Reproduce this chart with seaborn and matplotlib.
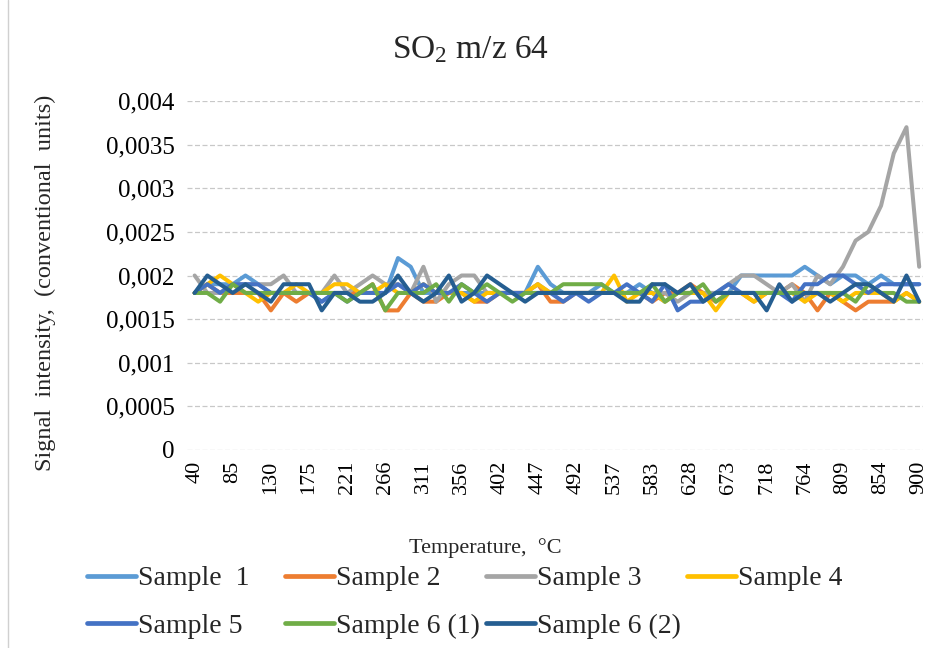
import matplotlib
matplotlib.use("Agg")
import matplotlib.pyplot as plt
from matplotlib.lines import Line2D
from matplotlib.ticker import FuncFormatter, MultipleLocator
import numpy as np
import pandas as pd
import seaborn as sns

# ---------------- data ----------------
temperatures = [40, 55, 70, 85, 100, 115, 130, 145, 160, 175, 190, 206, 221, 236, 251,
                266, 281, 296, 311, 326, 341, 356, 371, 387, 402, 417, 432, 447, 462, 477,
                492, 507, 522, 537, 552, 568, 583, 598, 613, 628, 643, 658, 673, 688, 703,
                718, 733, 749, 764, 779, 794, 809, 824, 839, 854, 869, 884, 900]

sample_1 = [0.0018, 0.0019, 0.0019, 0.0019, 0.0020, 0.0019, 0.0018, 0.0018, 0.0018, 0.0018,
            0.0017, 0.0018, 0.0018, 0.0018, 0.0018, 0.0018, 0.0022, 0.0021, 0.0018, 0.0018,
            0.0018, 0.0018, 0.0018, 0.0018, 0.0018, 0.0018, 0.0018, 0.0021, 0.0019, 0.0018,
            0.0018, 0.0018, 0.0019, 0.0018, 0.0018, 0.0019, 0.0018, 0.0017, 0.0018, 0.0018,
            0.0018, 0.0018, 0.0018, 0.0020, 0.0020, 0.0020, 0.0020, 0.0020, 0.0021, 0.0020,
            0.0019, 0.0020, 0.0020, 0.0019, 0.0020, 0.0019, 0.0019, 0.0019]
sample_2 = [0.0018, 0.0019, 0.0018, 0.0018, 0.0018, 0.0018, 0.0016, 0.0018, 0.0017, 0.0018,
            0.0018, 0.0018, 0.0018, 0.0018, 0.0019, 0.0016, 0.0016, 0.0018, 0.0017, 0.0017,
            0.0018, 0.0018, 0.0017, 0.0017, 0.0018, 0.0018, 0.0018, 0.0019, 0.0017, 0.0017,
            0.0018, 0.0018, 0.0018, 0.0018, 0.0018, 0.0018, 0.0017, 0.0018, 0.0018, 0.0019,
            0.0018, 0.0017, 0.0018, 0.0018, 0.0017, 0.0018, 0.0018, 0.0019, 0.0018, 0.0016,
            0.0018, 0.0017, 0.0016, 0.0017, 0.0017, 0.0017, 0.0018, 0.0017]
sample_3 = [0.0020, 0.0018, 0.0018, 0.0019, 0.0019, 0.0019, 0.0019, 0.0020, 0.0018, 0.0018,
            0.0018, 0.0020, 0.0018, 0.0019, 0.0020, 0.0019, 0.0019, 0.0018, 0.0021, 0.0017,
            0.0019, 0.0020, 0.0020, 0.0018, 0.0018, 0.0018, 0.0018, 0.0019, 0.0018, 0.0018,
            0.0018, 0.0018, 0.0018, 0.0018, 0.0018, 0.0018, 0.0018, 0.0018, 0.0017, 0.0018,
            0.0018, 0.0018, 0.0019, 0.0020, 0.0020, 0.0019, 0.0018, 0.0019, 0.0017, 0.0020,
            0.0019, 0.0021, 0.0024, 0.0025, 0.0028, 0.0034, 0.0037, 0.0021]
sample_4 = [0.0018, 0.0019, 0.0020, 0.0019, 0.0018, 0.0017, 0.0018, 0.0018, 0.0019, 0.0018,
            0.0018, 0.0019, 0.0019, 0.0018, 0.0018, 0.0019, 0.0018, 0.0018, 0.0019, 0.0018,
            0.0018, 0.0018, 0.0017, 0.0018, 0.0018, 0.0018, 0.0018, 0.0019, 0.0018, 0.0018,
            0.0018, 0.0018, 0.0018, 0.0020, 0.0017, 0.0018, 0.0018, 0.0017, 0.0018, 0.0018,
            0.0018, 0.0016, 0.0018, 0.0018, 0.0017, 0.0018, 0.0018, 0.0018, 0.0017, 0.0018,
            0.0018, 0.0017, 0.0018, 0.0018, 0.0018, 0.0017, 0.0018, 0.0017]
sample_5 = [0.0018, 0.0019, 0.0018, 0.0019, 0.0019, 0.0019, 0.0018, 0.0018, 0.0018, 0.0018,
            0.0017, 0.0018, 0.0017, 0.0018, 0.0018, 0.0018, 0.0019, 0.0018, 0.0019, 0.0018,
            0.0018, 0.0019, 0.0018, 0.0017, 0.0018, 0.0018, 0.0018, 0.0018, 0.0018, 0.0017,
            0.0018, 0.0017, 0.0018, 0.0018, 0.0019, 0.0018, 0.0017, 0.0019, 0.0016, 0.0017,
            0.0017, 0.0018, 0.0019, 0.0018, 0.0018, 0.0018, 0.0018, 0.0017, 0.0019, 0.0019,
            0.0020, 0.0020, 0.0019, 0.0018, 0.0019, 0.0019, 0.0019, 0.0019]
sample_6_1 = [0.0018, 0.0018, 0.0017, 0.0019, 0.0018, 0.0018, 0.0018, 0.0018, 0.0018, 0.0018,
              0.0018, 0.0018, 0.0017, 0.0018, 0.0019, 0.0016, 0.0018, 0.0018, 0.0018, 0.0019,
              0.0017, 0.0019, 0.0018, 0.0019, 0.0018, 0.0017, 0.0018, 0.0018, 0.0018, 0.0019,
              0.0019, 0.0019, 0.0019, 0.0018, 0.0018, 0.0018, 0.0019, 0.0017, 0.0018, 0.0018,
              0.0019, 0.0017, 0.0018, 0.0018, 0.0018, 0.0018, 0.0018, 0.0018, 0.0018, 0.0018,
              0.0018, 0.0018, 0.0017, 0.0019, 0.0018, 0.0018, 0.0017, 0.0017]
sample_6_2 = [0.0018, 0.0020, 0.0019, 0.0018, 0.0019, 0.0018, 0.0017, 0.0019, 0.0019, 0.0019,
              0.0016, 0.0018, 0.0018, 0.0017, 0.0017, 0.0018, 0.0020, 0.0018, 0.0017, 0.0018,
              0.0020, 0.0017, 0.0018, 0.0020, 0.0019, 0.0018, 0.0017, 0.0018, 0.0018, 0.0018,
              0.0018, 0.0018, 0.0018, 0.0018, 0.0017, 0.0017, 0.0019, 0.0019, 0.0018, 0.0019,
              0.0017, 0.0018, 0.0018, 0.0018, 0.0018, 0.0016, 0.0019, 0.0017, 0.0018, 0.0018,
              0.0017, 0.0018, 0.0019, 0.0019, 0.0018, 0.0017, 0.0020, 0.0017]

series_names = ["Sample  1", "Sample 2", "Sample 3", "Sample 4",
                "Sample 5", "Sample 6 (1)", "Sample 6 (2)"]
series_values = [sample_1, sample_2, sample_3, sample_4, sample_5, sample_6_1, sample_6_2]
colors = ["#5B9BD5", "#ED7D31", "#A5A5A5", "#FFC000", "#4472C4", "#70AD47", "#255E91"]

title_text = "SO$_2$ m/z 64"
x_label = "Temperature,  \u00b0C"
y_label = "Signal  intensity,  (conventional  units)"

# ---------------- style ----------------
sns.set_theme(style="white")
plt.rcParams["font.family"] = ["Liberation Serif", "DejaVu Serif"]
plt.rcParams["mathtext.fontset"] = "custom"
plt.rcParams["mathtext.rm"] = "Liberation Serif"
plt.rcParams["mathtext.it"] = "Liberation Serif:italic"

rows = []
for name, vals in zip(series_names, series_values):
    for i, v in enumerate(vals):
        rows.append({"idx": i, "value": v, "series": name})
df = pd.DataFrame(rows)

fig = plt.figure(figsize=(9.36, 6.48), dpi=100)
ax = fig.add_axes([187 / 936, 1 - 450 / 648, (923 - 187) / 936, (450 - 101) / 648])

sns.lineplot(data=df, x="idx", y="value", hue="series", hue_order=series_names,
             palette=colors, linewidth=2.9, ax=ax, legend=False, sort=False)

ax.set_xlim(-0.6, len(temperatures) - 1 + 0.3)
ax.set_ylim(0, 0.004)
ax.yaxis.set_major_locator(MultipleLocator(0.0005))


def fmt(v, pos):
    if abs(v) < 1e-12:
        return "0"
    s = f"{v:.4f}".rstrip("0")
    return s.replace(".", ",")


ax.yaxis.set_major_formatter(FuncFormatter(fmt))
ax.yaxis.grid(True, color="#C8C8C8", linestyle=(0, (4, 2)), linewidth=0.9)
ax.xaxis.grid(False)
ax.set_axisbelow(True)
for sp in ax.spines.values():
    sp.set_visible(False)

tick_pos = list(range(0, len(temperatures), 3))
ax.set_xticks(tick_pos)
ax.set_xticklabels([str(temperatures[i]) for i in tick_pos], rotation=90, fontsize=16)
ax.tick_params(axis="both", length=0, colors="#000000")
ax.tick_params(axis="y", labelsize=18, pad=9)
ax.tick_params(axis="x", pad=8)
ax.set_xlabel("")
ax.set_ylabel("")

fig.text(470 / 936, 1 - 50 / 648, title_text, fontsize=24, ha="center", va="center")
fig.text(485 / 936, 1 - 548 / 648, x_label, fontsize=16, ha="center", va="center")
fig.text(45 / 936, 1 - 283 / 648, y_label, fontsize=17.5, ha="center", va="center",
         rotation=90)

# legend: equal-width columns as in the spreadsheet legend, row-major order
legend_columns = [[0, 4], [1, 5], [2, 6], [3]]
column_x = [87, 285, 486, 687]
for cols, xpx in zip(legend_columns, column_x):
    hs = [Line2D([0], [0], color=colors[k], lw=3.4) for k in cols]
    ls = [series_names[k] for k in cols]
    fig.legend(hs, ls, loc="upper left", bbox_to_anchor=(xpx / 936, 1 - 566 / 648),
               ncol=1, frameon=False, fontsize=20, handlelength=1.75, handletextpad=0.1,
               labelspacing=0.8, borderpad=0, borderaxespad=0)

fig.add_artist(Line2D([8 / 936, 8 / 936], [0, 1], transform=fig.transFigure,
                      color="#D0D0D0", lw=1))

fig.savefig("out.png", dpi=100)
